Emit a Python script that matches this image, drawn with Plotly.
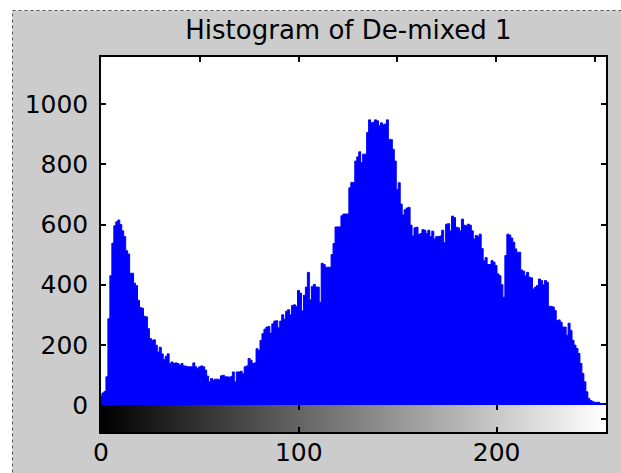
import plotly.graph_objects as go

# ---- data -------------------------------------------------------------
gray_levels = list(range(256))
counts = [
    30, 40, 45, 94, 287, 430, 538, 596, 609, 615,
    600, 579, 560, 513, 502, 438, 438, 405, 397, 348,
    324, 322, 295, 293, 254, 221, 215, 217, 199, 176,
    192, 170, 151, 162, 170, 138, 143, 138, 140, 138,
    132, 138, 130, 129, 127, 127, 127, 140, 127, 121,
    127, 130, 127, 116, 96, 77, 88, 83, 86, 86,
    85, 97, 99, 94, 94, 92, 95, 110, 77, 110,
    110, 112, 104, 127, 130, 155, 149, 138, 140, 187,
    182, 215, 237, 252, 259, 261, 239, 270, 279, 280,
    257, 279, 300, 285, 312, 317, 300, 331, 333, 328,
    381, 372, 313, 365, 392, 441, 350, 394, 401, 392,
    392, 342, 471, 467, 458, 458, 458, 500, 537, 592,
    592, 592, 629, 635, 635, 635, 722, 740, 740, 811,
    825, 842, 806, 834, 834, 906, 948, 938, 940, 948,
    945, 929, 938, 932, 934, 948, 883, 883, 850, 811,
    717, 739, 668, 632, 649, 655, 657, 598, 562, 589,
    591, 567, 570, 583, 581, 570, 581, 560, 578, 552,
    560, 560, 562, 581, 540, 601, 603, 579, 628, 623,
    591, 589, 579, 618, 598, 596, 601, 598, 579, 552,
    564, 560, 568, 520, 480, 490, 467, 467, 480, 475,
    464, 436, 430, 400, 358, 497, 568, 565, 555, 541,
    519, 508, 508, 449, 445, 430, 441, 425, 423, 386,
    392, 397, 419, 414, 400, 414, 408, 328, 328, 326,
    314, 281, 283, 275, 259, 259, 232, 272, 248, 215,
    199, 188, 171, 138, 105, 77, 44, 22, 15, 12,
    9, 9, 9, 5, 5, 4,
]
y_ticks = [0, 200, 400, 600, 800, 1000]
x_ticks = [0, 100, 200]
top_ticks = [50, 100, 150, 200, 250]
title_text = "Histogram of De-mixed 1"

FONT = "DejaVu Sans"
GRAY = "#cccccc"

fig = go.Figure()

# histogram (main axes)
fig.add_trace(go.Scatter(
    x=gray_levels, y=counts, mode="lines", line_shape="hvh",
    line=dict(color="#0000ff", width=1), fill="tozeroy", fillcolor="#0000ff",
    xaxis="x2", yaxis="y2", hoverinfo="skip", showlegend=False,
))

# gray-level colour bar (lower axes)
fig.add_trace(go.Heatmap(
    z=[gray_levels], x=gray_levels, y=[0.5],
    colorscale=[[0, "black"], [1, "white"]], zmin=0, zmax=255,
    showscale=False, xaxis="x", yaxis="y", hoverinfo="skip",
))

axis_common = dict(showline=True, linecolor="black", linewidth=1.5,
                   showgrid=False, zeroline=False, ticks="inside",
                   tickcolor="black", ticklen=5, tickwidth=1.5,
                   automargin=False)

fig.update_layout(
    width=621, height=473,
    margin=dict(l=101, r=15, t=57, b=41),
    paper_bgcolor=GRAY, plot_bgcolor="white",
    font=dict(family=FONT, color="black", size=25),
    showlegend=False,
    title=dict(text=title_text, x=0.49, xref="paper", xanchor="center",
               y=0.937, yanchor="middle", font=dict(family=FONT, size=26)),
    xaxis=dict(domain=[0, 1], anchor="y", range=[0, 255.3],
               tickvals=x_ticks, mirror="ticks", ticklabelstandoff=-3,
               tickfont=dict(family=FONT, size=25), **axis_common),
    yaxis=dict(domain=[0, 0.072], anchor="x", range=[0, 1], tickvals=[0.5],
               showticklabels=False, mirror="ticks", **axis_common),
    xaxis2=dict(domain=[0, 1], anchor="y2", range=[0, 255.7], side="top",
                tickvals=top_ticks, showticklabels=False, **axis_common),
    yaxis2=dict(domain=[0.072, 1], anchor="x2", range=[0, 1157],
                tickvals=y_ticks, mirror="ticks", ticklabelstandoff=6,
                tickfont=dict(family=FONT, size=25), **axis_common),
    shapes=[
        # white page strips outside the dotted figure border
        dict(type="rect", xref="paper", yref="paper", x0=-0.3, x1=-0.1752,
             y0=-0.3, y1=1.3, fillcolor="white", line=dict(width=0), layer="below"),
        dict(type="rect", xref="paper", yref="paper", x0=-0.3, x1=1.3,
             y0=1.124, y1=1.3, fillcolor="white", line=dict(width=0), layer="below"),
        dict(type="line", xref="paper", yref="paper", x0=-0.1752, x1=-0.1752,
             y0=-0.3, y1=1.124, line=dict(color="#555555", width=1, dash="dot")),
        dict(type="line", xref="paper", yref="paper", x0=-0.1752, x1=1.3,
             y0=1.124, y1=1.124, line=dict(color="#555555", width=1, dash="dot")),
    ],
)

fig.write_html("out.html", config={"displayModeBar": False},
               post_script="document.body.style.margin='0';document.body.style.overflow='hidden';")
